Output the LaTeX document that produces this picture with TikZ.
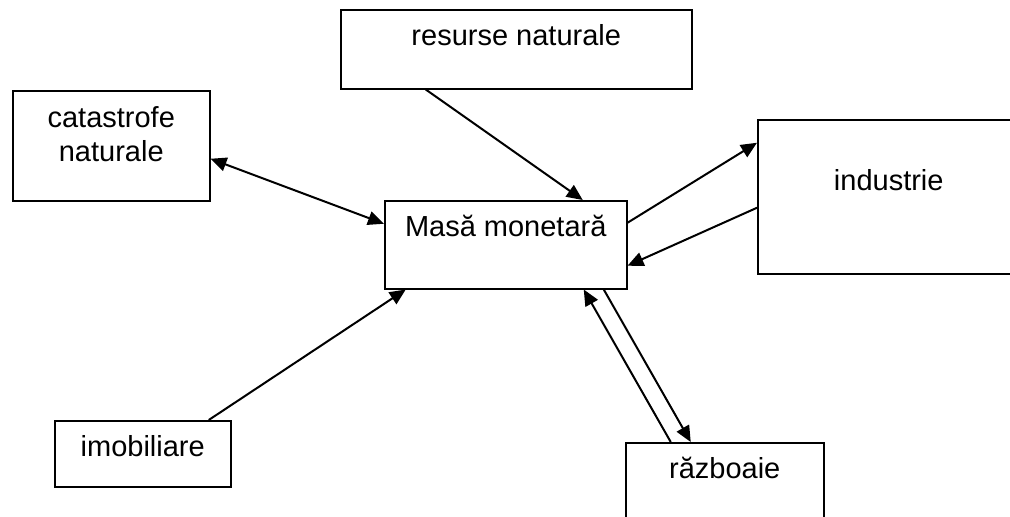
\documentclass[tikz,border=0pt]{standalone}
\usepackage{fontspec}
\setmainfont{Liberation Sans}
\usetikzlibrary{arrows.meta}

\begin{document}
\begin{tikzpicture}[x=1pt,y=-1pt,
		box/.style={draw, line width=1.5pt, anchor=north west, inner sep=0pt, align=center,
			font=\fontsize{29}{34}\selectfont, text height=36pt},
		link/.style={line width=2pt, -{Triangle[length=16pt,width=14pt]}},
		twolink/.style={line width=2pt, {Triangle[length=16pt,width=14pt]}-{Triangle[length=16pt,width=14pt]}}]
		\useasboundingbox (0,0) rectangle (1010,517);
		\node[box, minimum width=351pt, text depth=43pt] (resurse) at (340,9) {resurse naturale};
		% two lines: the height counts to the last baseline
		\node[box, minimum width=197pt, text height=71pt, text depth=39pt] (catastrofe) at (12,90) {catastrofe\\naturale};
		\node[box, minimum width=242pt, text depth=52pt] (masa) at (384,200) {Masă monetară};
		\node[box, minimum width=262pt, text height=71pt, text depth=83pt] (industrie) at (757,119) {industrie};
		\node[box, minimum width=176pt, text depth=30pt] (imobiliare) at (54,420) {imobiliare};
		\node[box, minimum width=198pt, text depth=64pt] (razboaie) at (625,442) {războaie};
		
		\draw[link] ([xshift=-90.5pt]resurse.south) -- ([xshift=77pt]masa.north);
		\draw[twolink] ([yshift=-13pt]catastrofe.east) -- ([yshift=21pt]masa.west);
		\draw[link] ([yshift=22pt]masa.east) -- ([yshift=54pt]industrie.west);
		\draw[link] ([yshift=-11pt]industrie.west) -- ([yshift=-21pt]masa.east);
		\draw[link] ([xshift=66pt]imobiliare.north) -- ([xshift=-100pt]masa.south);
		\draw[link] ([xshift=98pt]masa.south) -- ([xshift=-34pt]razboaie.north);
		\draw[link] ([xshift=-54pt]razboaie.north) -- ([xshift=78pt]masa.south);
	\end{tikzpicture}
\end{document}
